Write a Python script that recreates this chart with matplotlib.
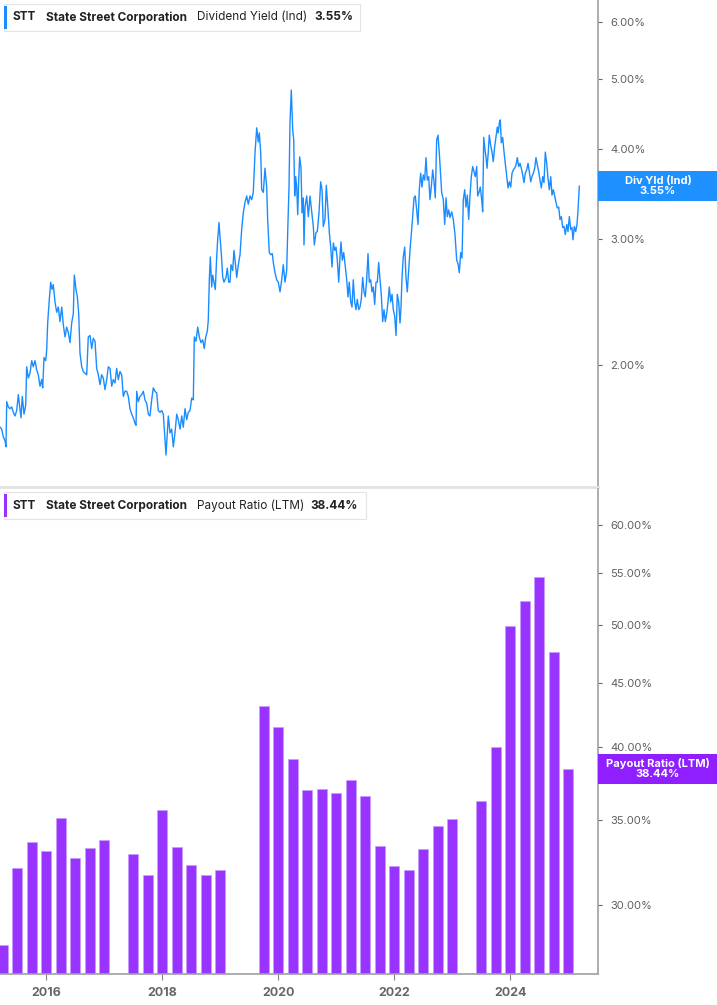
import matplotlib
matplotlib.use("Agg")
import matplotlib.pyplot as plt
from matplotlib.patches import Rectangle
from matplotlib.ticker import FixedLocator, FuncFormatter, NullLocator

plt.rcParams["font.family"] = ["Inter", "DejaVu Sans"]

# dividend yield (ind), % -- decimal years
yld_years = [
    2015.202, 2015.231, 2015.259, 2015.288, 2015.305, 2015.318, 2015.345, 2015.374, 2015.404, 2015.431,
    2015.461, 2015.490, 2015.518, 2015.547, 2015.564, 2015.586, 2015.616, 2015.645, 2015.662, 2015.690,
    2015.719, 2015.749, 2015.776, 2015.805, 2015.835, 2015.862, 2015.892, 2015.921, 2015.938, 2015.961,
    2015.990, 2016.007, 2016.024, 2016.052, 2016.076, 2016.099, 2016.121, 2016.150, 2016.180, 2016.207,
    2016.236, 2016.266, 2016.293, 2016.323, 2016.352, 2016.380, 2016.409, 2016.438, 2016.466, 2016.483,
    2016.512, 2016.535, 2016.559, 2016.581, 2016.611, 2016.638, 2016.668, 2016.697, 2016.724, 2016.754,
    2016.783, 2016.811, 2016.840, 2016.869, 2016.897, 2016.926, 2016.955, 2016.983, 2017.012, 2017.042,
    2017.069, 2017.099, 2017.128, 2017.155, 2017.185, 2017.214, 2017.242, 2017.271, 2017.300, 2017.328,
    2017.357, 2017.386, 2017.414, 2017.443, 2017.473, 2017.500, 2017.530, 2017.547, 2017.559, 2017.586,
    2017.616, 2017.645, 2017.673, 2017.702, 2017.731, 2017.759, 2017.788, 2017.817, 2017.845, 2017.874,
    2017.904, 2017.931, 2017.961, 2017.990, 2018.018, 2018.047, 2018.064, 2018.086, 2018.104, 2018.133,
    2018.162, 2018.190, 2018.219, 2018.249, 2018.276, 2018.306, 2018.335, 2018.362, 2018.392, 2018.421,
    2018.449, 2018.478, 2018.507, 2018.535, 2018.552, 2018.581, 2018.611, 2018.638, 2018.667, 2018.697,
    2018.724, 2018.749, 2018.776, 2018.793, 2018.811, 2018.828, 2018.852, 2018.869, 2018.892, 2018.914,
    2018.938, 2018.955, 2018.978, 2018.995, 2019.018, 2019.042, 2019.064, 2019.099, 2019.121, 2019.145,
    2019.168, 2019.185, 2019.214, 2019.236, 2019.259, 2019.283, 2019.311, 2019.340, 2019.369, 2019.397,
    2019.426, 2019.455, 2019.483, 2019.512, 2019.542, 2019.569, 2019.599, 2019.628, 2019.655, 2019.673,
    2019.697, 2019.714, 2019.742, 2019.771, 2019.800, 2019.817, 2019.845, 2019.869, 2019.897, 2019.914,
    2019.943, 2019.973, 2020.000, 2020.030, 2020.059, 2020.086, 2020.116, 2020.145, 2020.162, 2020.185,
    2020.202, 2020.224, 2020.249, 2020.266, 2020.283, 2020.300, 2020.318, 2020.335, 2020.352, 2020.369,
    2020.392, 2020.409, 2020.431, 2020.443, 2020.461, 2020.490, 2020.518, 2020.547, 2020.576, 2020.604,
    2020.621, 2020.650, 2020.673, 2020.702, 2020.731, 2020.754, 2020.776, 2020.805, 2020.828, 2020.857,
    2020.880, 2020.904, 2020.926, 2020.949, 2020.973, 2020.995, 2021.018, 2021.042, 2021.064, 2021.081,
    2021.104, 2021.128, 2021.150, 2021.180, 2021.202, 2021.224, 2021.249, 2021.271, 2021.293, 2021.317,
    2021.340, 2021.362, 2021.387, 2021.409, 2021.431, 2021.455, 2021.478, 2021.500, 2021.524, 2021.547,
    2021.569, 2021.593, 2021.616, 2021.638, 2021.662, 2021.685, 2021.707, 2021.731, 2021.754, 2021.776,
    2021.800, 2021.823, 2021.845, 2021.869, 2021.892, 2021.914, 2021.938, 2021.961, 2021.983, 2022.007,
    2022.030, 2022.052, 2022.076, 2022.099, 2022.116, 2022.133, 2022.155, 2022.180, 2022.202, 2022.224,
    2022.248, 2022.271, 2022.293, 2022.317, 2022.340, 2022.362, 2022.386, 2022.409, 2022.431, 2022.455,
    2022.478, 2022.500, 2022.524, 2022.547, 2022.569, 2022.593, 2022.616, 2022.638, 2022.662, 2022.685,
    2022.707, 2022.731, 2022.754, 2022.776, 2022.817, 2022.845, 2022.869, 2022.892, 2022.914, 2022.938,
    2022.961, 2022.990, 2023.018, 2023.047, 2023.076, 2023.099, 2023.121, 2023.145, 2023.168, 2023.190,
    2023.214, 2023.236, 2023.259, 2023.283, 2023.306, 2023.328, 2023.352, 2023.374, 2023.397, 2023.421,
    2023.438, 2023.461, 2023.483, 2023.507, 2023.524, 2023.542, 2023.564, 2023.581, 2023.599, 2023.621,
    2023.638, 2023.662, 2023.685, 2023.707, 2023.731, 2023.754, 2023.776, 2023.793, 2023.811, 2023.828,
    2023.845, 2023.869, 2023.892, 2023.914, 2023.938, 2023.961, 2023.983, 2024.007, 2024.030, 2024.052,
    2024.076, 2024.099, 2024.121, 2024.145, 2024.168, 2024.190, 2024.214, 2024.236, 2024.259, 2024.283,
    2024.306, 2024.328, 2024.352, 2024.374, 2024.397, 2024.421, 2024.443, 2024.466, 2024.490, 2024.512,
    2024.535, 2024.559, 2024.581, 2024.604, 2024.628, 2024.650, 2024.673, 2024.697, 2024.719, 2024.742,
    2024.766, 2024.788, 2024.811, 2024.835, 2024.857, 2024.880, 2024.904, 2024.926, 2024.949, 2024.973,
    2024.995, 2025.018, 2025.042, 2025.064, 2025.081, 2025.104, 2025.128, 2025.150, 2025.168, 2025.190,
]
yld_values = [
    1.64, 1.63, 1.59, 1.57, 1.54, 1.78, 1.75, 1.74, 1.75, 1.72,
    1.70, 1.73, 1.82, 1.74, 1.69, 1.81, 1.71, 1.76, 1.99, 1.92,
    1.95, 2.03, 1.99, 2.03, 1.97, 1.94, 1.87, 1.91, 1.86, 2.05,
    2.03, 2.10, 2.29, 2.47, 2.61, 2.55, 2.59, 2.45, 2.37, 2.41,
    2.30, 2.41, 2.28, 2.19, 2.26, 2.22, 2.15, 2.29, 2.36, 2.67,
    2.55, 2.49, 2.36, 2.08, 1.99, 1.96, 1.95, 1.94, 2.19, 2.20,
    2.11, 2.18, 2.16, 1.98, 1.94, 1.88, 1.94, 1.92, 1.85, 1.91,
    1.99, 1.98, 1.87, 1.91, 1.89, 1.98, 1.91, 1.96, 1.94, 1.81,
    1.84, 1.84, 1.81, 1.74, 1.71, 1.69, 1.66, 1.65, 1.84, 1.78,
    1.81, 1.82, 1.84, 1.79, 1.77, 1.71, 1.70, 1.79, 1.86, 1.84,
    1.83, 1.73, 1.72, 1.73, 1.71, 1.57, 1.50, 1.61, 1.70, 1.61,
    1.63, 1.54, 1.61, 1.71, 1.68, 1.63, 1.70, 1.64, 1.74, 1.68,
    1.72, 1.73, 1.80, 1.79, 2.19, 2.16, 2.26, 2.19, 2.15, 2.17,
    2.11, 2.19, 2.23, 2.31, 2.63, 2.83, 2.57, 2.67, 2.61, 2.55,
    2.83, 2.99, 3.16, 3.02, 2.86, 2.65, 2.61, 2.65, 2.73, 2.61,
    2.61, 2.76, 2.71, 2.89, 2.78, 2.65, 2.76, 2.85, 3.09, 3.26,
    3.37, 3.44, 3.35, 3.44, 3.40, 3.48, 3.95, 4.28, 4.09, 4.21,
    3.95, 3.51, 3.48, 3.76, 3.54, 3.19, 2.87, 2.85, 2.86, 2.78,
    2.69, 2.63, 2.61, 2.53, 2.63, 2.76, 2.61, 2.71, 3.06, 3.54,
    4.35, 4.83, 4.25, 4.12, 3.44, 3.66, 3.54, 3.24, 3.62, 3.90,
    3.76, 3.26, 3.42, 2.94, 3.32, 3.44, 3.22, 3.44, 3.27, 3.12,
    2.94, 3.06, 3.07, 3.26, 3.60, 3.51, 3.12, 3.19, 3.56, 3.29,
    3.06, 2.92, 2.74, 2.96, 2.89, 2.92, 2.80, 2.61, 2.83, 2.97,
    2.80, 2.87, 2.77, 2.63, 2.49, 2.61, 2.45, 2.41, 2.63, 2.45,
    2.39, 2.47, 2.39, 2.41, 2.47, 2.65, 2.53, 2.49, 2.63, 2.86,
    2.61, 2.63, 2.53, 2.57, 2.43, 2.61, 2.61, 2.78, 2.63, 2.51,
    2.30, 2.39, 2.30, 2.36, 2.45, 2.57, 2.45, 2.51, 2.39, 2.34,
    2.20, 2.51, 2.45, 2.29, 2.41, 2.65, 2.83, 2.92, 2.65, 2.53,
    2.71, 2.89, 3.04, 3.22, 3.42, 3.44, 3.29, 3.14, 3.51, 3.70,
    3.54, 3.68, 3.62, 3.89, 3.62, 3.66, 3.40, 3.54, 3.74, 3.60,
    3.42, 4.12, 4.18, 3.95, 3.48, 3.40, 3.14, 3.42, 3.22, 3.29,
    3.21, 3.27, 3.19, 3.04, 2.80, 2.77, 2.69, 2.87, 2.82, 3.40,
    3.51, 3.32, 3.45, 3.19, 3.45, 3.66, 3.78, 3.72, 3.66, 3.78,
    3.44, 3.48, 3.54, 3.40, 3.27, 4.15, 3.99, 3.90, 3.76, 3.96,
    4.18, 4.05, 3.96, 3.84, 4.03, 4.16, 4.29, 4.21, 4.35, 4.39,
    4.08, 4.15, 3.96, 3.82, 3.68, 3.53, 3.60, 3.54, 3.70, 3.74,
    3.76, 3.80, 3.89, 3.78, 3.82, 3.76, 3.68, 3.59, 3.70, 3.74,
    3.82, 3.72, 3.60, 3.66, 3.70, 3.76, 3.89, 3.80, 3.72, 3.62,
    3.53, 3.66, 3.59, 3.96, 3.82, 3.64, 3.51, 3.66, 3.45, 3.51,
    3.44, 3.37, 3.31, 3.32, 3.19, 3.22, 3.11, 3.12, 3.04, 3.14,
    3.07, 3.22, 3.09, 3.11, 2.99, 3.12, 3.07, 3.14, 3.29, 3.55,
]

# payout ratio (LTM), % by fiscal quarter
payout_quarters = [
    "2015Q1", "2015Q2", "2015Q3", "2015Q4", "2016Q1", "2016Q2", "2016Q3", "2016Q4",
    "2017Q2", "2017Q3", "2017Q4", "2018Q1", "2018Q2", "2018Q3", "2018Q4",
    "2019Q3", "2019Q4", "2020Q1", "2020Q2", "2020Q3", "2020Q4", "2021Q1", "2021Q2",
    "2021Q3", "2021Q4", "2022Q1", "2022Q2", "2022Q3", "2022Q4",
    "2023Q2", "2023Q3", "2023Q4", "2024Q1", "2024Q2", "2024Q3", "2024Q4",
]
payout_values = [
    27.87, 32.06, 33.62, 33.11, 35.16, 32.67, 33.27, 33.76,
    32.91, 31.65, 35.64, 33.31, 32.24, 31.65, 31.96,
    43.12, 41.50, 39.14, 36.97, 37.04, 36.77, 37.67, 36.59,
    33.41, 32.20, 31.94, 33.19, 34.61, 35.08,
    36.24, 40.03, 49.90, 52.23, 54.54, 47.62, 38.44,
]

yld_ticks = [2, 3, 4, 5, 6]
payout_ticks = [30, 35, 40, 45, 50, 55, 60]
year_ticks = [2016, 2018, 2020, 2022, 2024]

BLUE = "#1a8cff"
PURPLE = "#9933ff"
TICK_C = "#5f5f5f"
W, H = 717, 1005


def fx(x):
    return x / W


def fy(y):
    return 1 - y / H


def quarter_end(q):
    return int(q[:4]) + int(q[5]) * 0.25 - 0.004


fig = plt.figure(figsize=(W / 100, H / 100), dpi=100)
ax1 = fig.add_axes([0, fy(487), fx(598), 1 - fy(487)])
ax2 = fig.add_axes([0, fy(974), fx(598), fy(489) - fy(974)])

xmin, xmax = 2015.202, 2015.202 + 598 / 58

ax1.plot(yld_years, yld_values, color=BLUE, lw=1.0)
ax1.set_yscale("log")
ax1.set_ylim(1.354, 6.446)

bx = [quarter_end(q) for q in payout_quarters]
ax2.bar(bx, payout_values, width=0.172, color=PURPLE, edgecolor="#c79cff", linewidth=0.6)
ax2.set_yscale("log")
ax2.set_ylim(26.43, 64.09)

fmt = FuncFormatter(lambda v, p: f"{v:.2f}%")
for ax, ticks in ((ax1, yld_ticks), (ax2, payout_ticks)):
    ax.set_xlim(xmin, xmax)
    ax.yaxis.tick_right()
    ax.yaxis.set_major_locator(FixedLocator(ticks))
    ax.yaxis.set_minor_locator(NullLocator())
    ax.yaxis.set_major_formatter(fmt)
    ax.tick_params(axis="y", length=3, width=0.8, color="#666666", pad=6,
                   labelsize=8, labelcolor=TICK_C)
    ax.spines["left"].set_visible(False)
    ax.spines["top"].set_visible(False)
    ax.spines["right"].set_color("#a0a0a0")
    ax.spines["right"].set_linewidth(1.2)

ax1.spines["bottom"].set_color("#e2e2e2")
ax1.spines["bottom"].set_linewidth(2)
ax1.set_xticks([])

ax2.spines["bottom"].set_color("#a0a0a0")
ax2.spines["bottom"].set_linewidth(1.2)
ax2.set_xticks(year_ticks)
ax2.set_xticklabels([str(y) for y in year_ticks])
ax2.tick_params(axis="x", length=4, width=0.8, color="#808080", pad=5,
                labelsize=9, labelcolor="#666666")
for lab in ax2.get_xticklabels():
    lab.set_fontweight("bold")


# legend boxes in the top-left of each panel
def legend_box(top, right, bar_color, metric, value, value_x):
    fig.patches.append(Rectangle((fx(4), fy(top + 27)), fx(right) - fx(4), fy(top) - fy(top + 27),
                                 transform=fig.transFigure, facecolor="white",
                                 edgecolor="#e4e4e4", lw=0.8, zorder=5))
    fig.patches.append(Rectangle((fx(4), fy(top + 25)), fx(3), fy(top + 2) - fy(top + 25),
                                 transform=fig.transFigure, facecolor=bar_color,
                                 edgecolor="none", zorder=6))
    yc = fy(top + 13.5)
    kw = dict(va="center", ha="left", fontsize=8.5, color="#222222", zorder=7)
    fig.text(fx(13), yc, "STT", fontweight="bold", **kw)
    fig.text(fx(46), yc, "State Street Corporation", fontweight="bold", **kw)
    fig.text(fx(197), yc, metric, **kw)
    fig.text(fx(value_x), yc, value, fontweight="bold", **kw)


legend_box(4, 360, BLUE, "Dividend Yield (Ind)", f"{yld_values[-1]:.2f}%", 314)
legend_box(492, 366, PURPLE, "Payout Ratio (LTM)", f"{payout_values[-1]:.2f}%", 310)


# last-value tags on the right axis
def value_tag(ax, value, label, color):
    ydisp = ax.transData.transform((xmax, value))[1]
    yc = ydisp / fig.bbox.height
    h = 30 / H
    fig.patches.append(Rectangle((fx(598), yc - h / 2), 1 - fx(598), h,
                                 transform=fig.transFigure, facecolor=color,
                                 edgecolor="none", zorder=5))
    fig.text(fx(658), yc, f"{label}\n{value:.2f}%", ha="center", va="center",
             fontsize=8, fontweight="bold", color="white", linespacing=1.0, zorder=6)


value_tag(ax1, yld_values[-1], "Div Yld (Ind)", "#1e90ff")
value_tag(ax2, payout_values[-1], "Payout Ratio (LTM)", "#8f1fff")

fig.savefig("out.png", dpi=100)
